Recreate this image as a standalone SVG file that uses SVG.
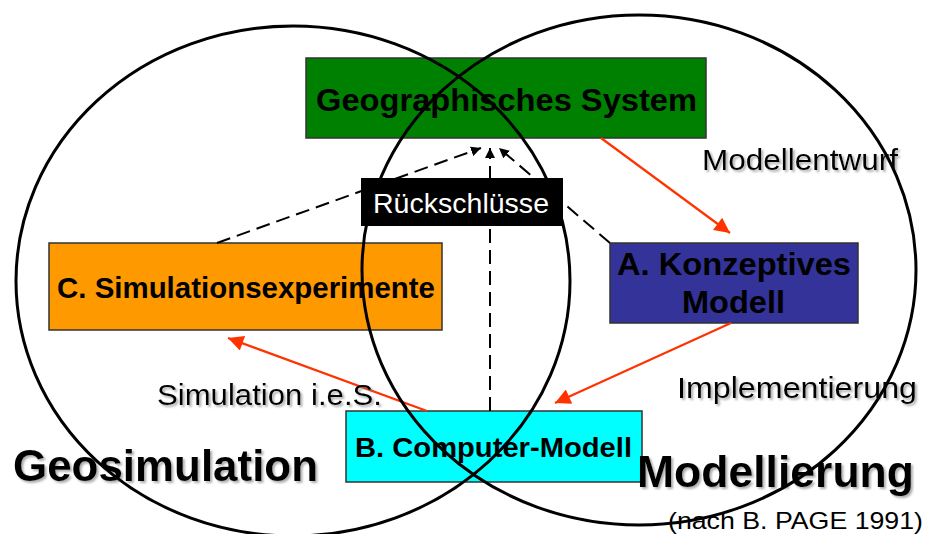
<svg xmlns="http://www.w3.org/2000/svg" width="929" height="534" viewBox="0 0 929 534">
<style>
.box{stroke:#333;stroke-width:1.5}
.bt{font-family:"Liberation Sans",Arial,sans-serif;font-weight:bold;fill:#000}
.lbl{font-family:"Liberation Sans",Arial,sans-serif;fill:#000}
.red{stroke:#FF3300;stroke-width:2.2;fill:none}
.dash{stroke:#000;stroke-width:2;fill:none;stroke-dasharray:14,7}
.ell{fill:none;stroke:#000;stroke-width:3}
</style>
<defs>
<marker id="ra" viewBox="0 0 10 10" refX="10" refY="5" markerWidth="8" markerHeight="7" markerUnits="strokeWidth" orient="auto">
<path d="M0,0 L10,5 L0,10 Z" fill="#FF3300"/>
</marker>
<marker id="ba" viewBox="0 0 10 10" refX="10" refY="5" markerWidth="5" markerHeight="5" markerUnits="strokeWidth" orient="auto">
<path d="M0,0 L10,5 L0,10 Z" fill="#000"/>
</marker>
<filter id="sh" x="-10%" y="-30%" width="130%" height="180%">
<feDropShadow dx="2" dy="2" stdDeviation="1" flood-color="#777" flood-opacity="0.6"/>
</filter>
</defs>

<g id="geo">
<rect class="box" x="306" y="58" width="400" height="80" fill="#008000"/>
<text class="bt" x="316" y="111" font-size="32" textLength="381" lengthAdjust="spacingAndGlyphs">Geographisches System</text>
</g>
<g id="sim">
<rect class="box" x="49" y="243" width="393" height="87" fill="#FF9900"/>
<text class="bt" x="57" y="298" font-size="30" textLength="378" lengthAdjust="spacingAndGlyphs">C. Simulationsexperimente</text>
</g>
<g id="konz">
<rect class="box" x="610" y="243" width="248" height="80" fill="#333399"/>
<text class="bt" x="617" y="275" font-size="31" textLength="234" lengthAdjust="spacingAndGlyphs">A. Konzeptives</text>
<text class="bt" x="682" y="313" font-size="31" textLength="103" lengthAdjust="spacingAndGlyphs">Modell</text>
</g>
<g id="comp">
<rect class="box" x="346" y="411" width="296" height="71" fill="#00FFFF"/>
<text class="bt" x="355" y="457" font-size="28" textLength="277" lengthAdjust="spacingAndGlyphs">B. Computer-Modell</text>
</g>

<g id="connectors">
<line class="red" x1="601" y1="138" x2="730" y2="233" marker-end="url(#ra)"/>
<line class="red" x1="731" y1="323" x2="555" y2="403" marker-end="url(#ra)"/>
<line class="red" x1="427" y1="411" x2="228" y2="338" marker-end="url(#ra)"/>
<line class="dash" x1="217" y1="243" x2="481" y2="148" marker-end="url(#ba)"/>
<line class="dash" x1="490" y1="411" x2="490" y2="148" marker-end="url(#ba)"/>
<line class="dash" x1="610" y1="243" x2="499" y2="148" marker-end="url(#ba)"/>
</g>

<g id="labels">
<text class="lbl" x="702" y="170" font-size="30" textLength="196" lengthAdjust="spacingAndGlyphs" filter="url(#sh)">Modellentwurf</text>
<text class="lbl" x="677" y="398" font-size="30" textLength="240" lengthAdjust="spacingAndGlyphs" filter="url(#sh)">Implementierung</text>
<text class="lbl" x="157" y="405" font-size="30" textLength="225" lengthAdjust="spacingAndGlyphs" filter="url(#sh)">Simulation i.e.S.</text>
<text class="bt" x="13" y="481" font-size="44" textLength="305" lengthAdjust="spacingAndGlyphs" filter="url(#sh)">Geosimulation</text>
<text class="bt" x="637" y="487" font-size="44" textLength="277" lengthAdjust="spacingAndGlyphs" filter="url(#sh)">Modellierung</text>
<text class="lbl" x="668" y="529" font-size="24" textLength="255" lengthAdjust="spacingAndGlyphs">(nach B. PAGE 1991)</text>
</g>

<g id="ellipses">
<ellipse class="ell" cx="293" cy="281" rx="277" ry="255"/>
<ellipse class="ell" cx="639" cy="270" rx="277" ry="255"/>
</g>

<g id="rueck">
<rect x="361" y="178" width="202" height="48" fill="#000"/>
<text class="lbl" x="373" y="213" font-size="28" style="fill:#fff" textLength="176" lengthAdjust="spacingAndGlyphs">Rückschlüsse</text>
</g>
</svg>
